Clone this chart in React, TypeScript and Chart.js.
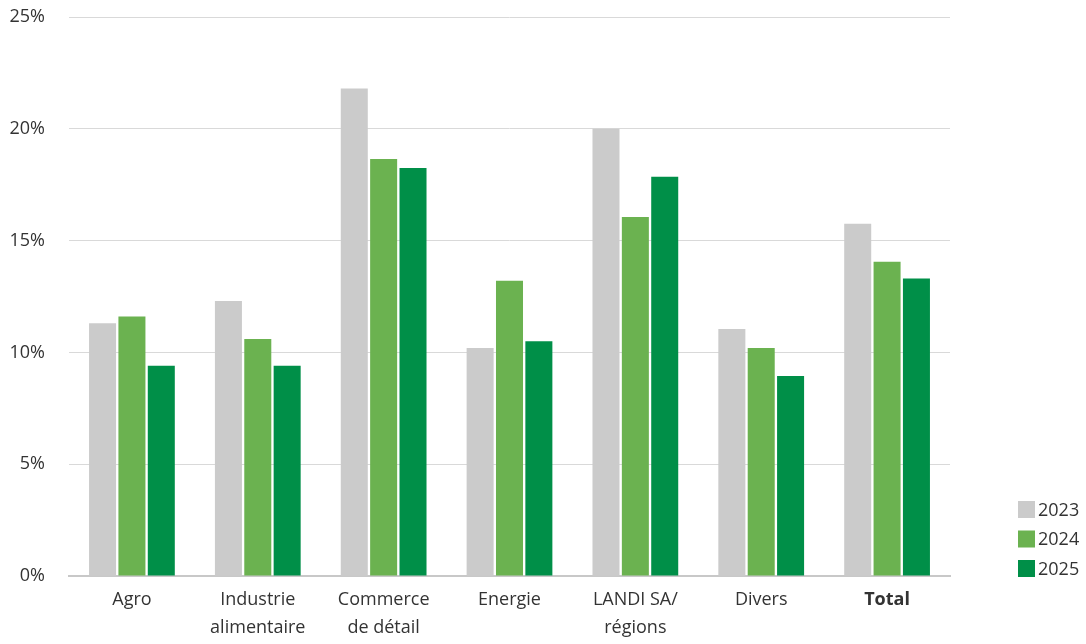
import React, { useEffect, useRef } from "react";
import { Chart, registerables } from "chart.js";

Chart.register(...registerables);

const categories: (string | string[])[] = [
  "Agro",
  ["Industrie", "alimentaire"],
  ["Commerce", "de détail"],
  "Energie",
  ["LANDI SA/", "régions"],
  "Divers",
  "Total",
];
const seriesLabels = ["2023", "2024", "2025"];
const values2023 = [11.3, 12.3, 21.8, 10.2, 20.0, 11.05, 15.75];
const values2024 = [11.6, 10.6, 18.65, 13.2, 16.05, 10.2, 14.05];
const values2025 = [9.4, 9.4, 18.25, 10.5, 17.85, 8.95, 13.3];
const yTicks = [0, 5, 10, 15, 20, 25];
const colors = ["#cbcbcb", "#6bb250", "#008f48"];

const FONT = "'Open Sans', 'Noto Sans', sans-serif";
const TEXT = "#333333";

const legendPlugin = {
  id: "sideLegend",
  afterDraw(chart: any) {
    const ctx = chart.ctx;
    const ds = chart.data.datasets;
    const x = chart.chartArea.right + 68;
    const bottom = chart.chartArea.bottom + 1;
    const step = 29.5;
    const box = 17;
    ctx.save();
    ctx.font = `18px ${FONT}`;
    ctx.textBaseline = "middle";
    ctx.textAlign = "left";
    ds.forEach((d: any, i: number) => {
      const top = bottom - box - (ds.length - 1 - i) * step;
      ctx.fillStyle = d.backgroundColor;
      ctx.fillRect(x, top, box, box);
      ctx.fillStyle = TEXT;
      ctx.fillText(d.label, x + box + 3, top + box / 2 + 1);
    });
    ctx.restore();
  },
};

export default function App() {
  const ref = useRef<HTMLCanvasElement | null>(null);
  useEffect(() => {
    if (!ref.current) return;
    const series = [values2023, values2024, values2025];
    const chart = new Chart(ref.current, {
      type: "bar",
      data: {
        labels: categories,
        datasets: series.map((v, i) => ({
          label: seriesLabels[i],
          data: v,
          backgroundColor: colors[i],
          borderWidth: 0,
          categoryPercentage: 0.7,
          barPercentage: 0.92,
        })),
      },
      options: {
        animation: false,
        responsive: true,
        maintainAspectRatio: false,
        layout: { padding: { top: 17, right: 136, left: 0, bottom: 0 } },
        plugins: { legend: { display: false }, tooltip: { enabled: false } },
        scales: {
          x: {
            grid: { display: false, drawTicks: false },
            border: { display: true, color: "#c8c8c8", width: 2 },
            ticks: {
              padding: 10,
              color: TEXT,
              maxRotation: 0,
              autoSkip: false,
              font: (c: any) => ({
                family: FONT,
                size: 18,
                lineHeight: 1.56,
                weight: c.index === categories.length - 1 ? "bold" : "normal",
              }),
            },
            afterFit: (s: any) => {
              s.height = 68;
              s.paddingTop = 0;
              s.paddingBottom = 0;
            },
          },
          y: {
            min: 0,
            max: 25,
            afterBuildTicks: (s: any) => {
              s.ticks = yTicks.map((v) => ({ value: v }));
            },
            grid: { color: "#d9d9d9", lineWidth: 1, drawTicks: false },
            border: { display: false },
            ticks: {
              padding: 24,
              color: TEXT,
              font: { family: FONT, size: 18 },
              callback: (v: any) => `${v}%`,
            },
            afterFit: (s: any) => {
              s.width = 69;
              s.paddingTop = 0;
              s.paddingBottom = 0;
            },
          },
        },
      },
      plugins: [legendPlugin],
    });
    return () => chart.destroy();
  }, []);
  return (
    <div style={{ position: "fixed", left: 0, top: 0, width: 1086, height: 644 }}>
      <canvas ref={ref} />
    </div>
  );
}
